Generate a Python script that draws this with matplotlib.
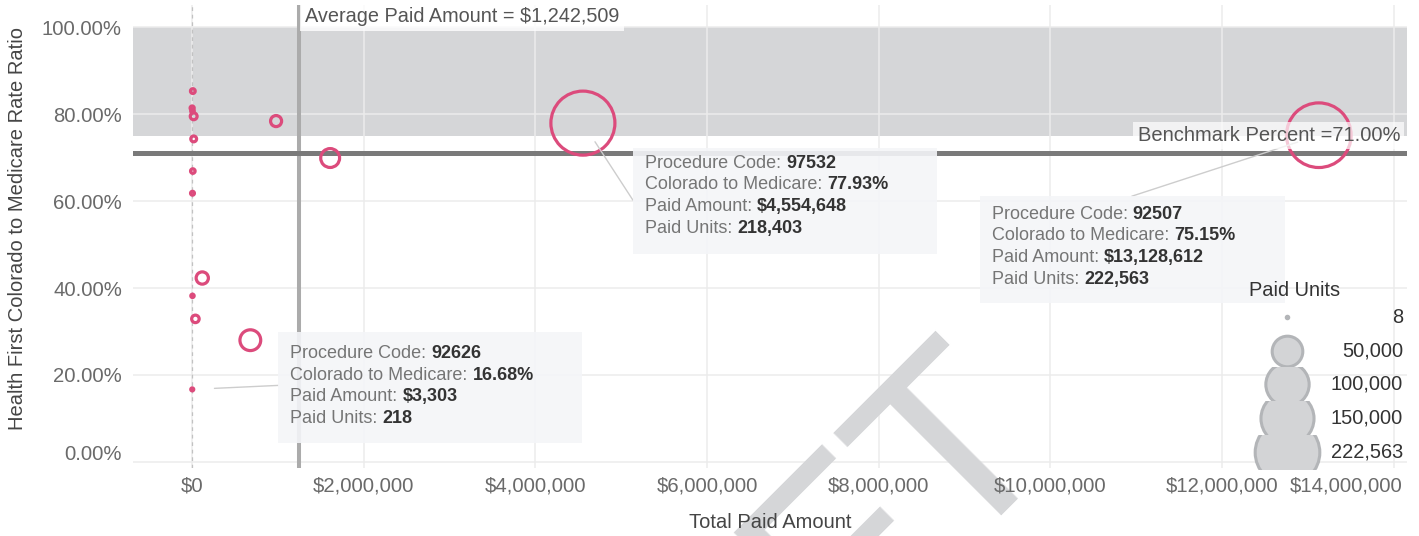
import numpy as np
import matplotlib
matplotlib.use('Agg')
import matplotlib.pyplot as plt
import matplotlib.transforms as mtransforms
from matplotlib.patches import Rectangle

plt.rcParams['font.family'] = ['Liberation Sans', 'DejaVu Sans']

# ---------------- data ----------------
paid_amount = [10000, 2000, 6000, 20000, 20000, 10000, 6000, 6000, 40000, 3303,
               980000, 1610000, 120000, 680000, 4554648, 13128612]
ratio_pct = [85.3, 81.4, 80.7, 79.5, 74.3, 66.9, 61.8, 38.2, 32.9, 16.68,
             78.4, 69.9, 42.3, 28.0, 77.93, 75.15]
paid_units = [1200, 900, 700, 2500, 1800, 1100, 800, 600, 3000, 218,
              6500, 19000, 8000, 23000, 218403, 222563]

ann_index = [9, 14, 15]
ann_code = ['92626', '97532', '92507']

average_paid = 1242509
benchmark_pct = 71.0
band_low, band_high = 75.0, 100.0

x_ticks = [0, 2000000, 4000000, 6000000, 8000000, 10000000, 12000000, 14000000]
y_ticks = [0, 20, 40, 60, 80, 100]
legend_units = [8, 50000, 100000, 150000, 222563]

# ---------------- style ----------------
PINK = '#dc4b7c'
TICK_C = '#6a6a6a'
TITLE_C = '#454545'
DPI = 100


def diam_px(u, min_d=3.0):
    return max(0.137 * np.sqrt(u), min_d)


def s_of(u, min_d=3.0):
    return (diam_px(u, min_d) * 72.0 / DPI) ** 2


fig = plt.figure(figsize=(14.19, 5.36), dpi=DPI)
W, H = 1419, 536
ax = fig.add_axes([133 / W, 1 - 468 / H, (1407 - 133) / W, (468 - 5) / H])
ax.set_xlim(-687000, 14156000)
ax.set_ylim(-1.4, 105.1)
ax.set_axisbelow(False)
for sp in ax.spines.values():
    sp.set_visible(False)

# band
ax.axhspan(band_low, band_high, color='#d5d6d8', zorder=1, lw=0)

# gridlines
for xt in x_ticks:
    ax.axvline(xt, color='#ececec', lw=1.1, zorder=1.2)
for yt in y_ticks:
    ax.axhline(yt, color='#ececec', lw=1.1, zorder=1.2)

# zero line
ax.axvline(0, color='#c2c2c2', lw=0.9, ls=(0, (3, 3)), zorder=1.3)
# average line
ax.axvline(average_paid, color='#ababab', lw=2.9, zorder=1.4)
# benchmark line
ax.axhline(benchmark_pct, color='#7a7a7a', lw=3.6, zorder=1.5)

# ticks
ax.set_xticks(x_ticks)
ax.set_xticklabels(['${:,.0f}'.format(v) for v in x_ticks])
ax.set_yticks(y_ticks)
ax.set_yticklabels(['{:.2f}%'.format(v) for v in y_ticks])
ax.tick_params(axis='both', length=0, labelsize=14.6, labelcolor=TICK_C)
ax.tick_params(axis='x', pad=6.2)
ax.tick_params(axis='y', pad=8)
xl = ax.get_xticklabels()
xl[-1].set_ha('right')
xl[-1].set_transform(xl[-1].get_transform() +
                     mtransforms.ScaledTranslation(9 / DPI, 0, fig.dpi_scale_trans))
yl = ax.get_yticklabels()
yl[0].set_transform(yl[0].get_transform() +
                    mtransforms.ScaledTranslation(0, 9 / DPI, fig.dpi_scale_trans))

ax.set_xlabel('Total Paid Amount', fontsize=14.5, color=TITLE_C)
ax.xaxis.label.set_va('center')
ax.xaxis.set_label_coords(0.5, -0.118)
ax.set_ylabel('Health First Colorado to Medicare Rate Ratio', fontsize=14.5, color=TITLE_C)
ax.yaxis.label.set_va('center')
ax.yaxis.set_label_coords(-0.0903, 0.518)

# watermark (behind tick labels)
ax.text(0.534, -0.377, 'DRAFT', transform=fig.transFigure, fontsize=184,
        rotation=45, rotation_mode='anchor', ha='center', va='baseline',
        color='#d5d6d8', clip_on=False, zorder=2)

# scatter
sizes = [s_of(u) for u in paid_units]
ax.scatter(paid_amount, ratio_pct, s=sizes, facecolors='none', edgecolors=PINK,
           linewidths=2.3, zorder=3)

# labels for lines
ax.annotate('Average Paid Amount = ${:,.0f}'.format(average_paid),
            xy=(average_paid, 1), xycoords=ax.get_xaxis_transform(),
            xytext=(6, -12), textcoords='offset pixels', ha='left', va='center',
            fontsize=14.3, color='#555555', zorder=5,
            bbox=dict(boxstyle='square,pad=0.25', fc='white', ec='none', alpha=0.8))
ax.annotate('Benchmark Percent ={:.2f}%'.format(benchmark_pct),
            xy=(1, benchmark_pct), xycoords=ax.get_yaxis_transform(),
            xytext=(-7, 18), textcoords='offset pixels', ha='right', va='center',
            fontsize=14.5, color='#555555', zorder=5,
            bbox=dict(boxstyle='square,pad=0.2', fc='white', ec='none', alpha=0.7))

# annotation boxes (offsets in pixels relative to the point, y up)
layouts = [
    dict(box=(86, 57, 304, 111), text=(98, 36), lead=(86, 4)),
    dict(box=(50, -25, 304, 106), text=(62, -40), lead=(50, -77)),
    dict(box=(-339, -61, 305, 107), text=(-327, -79), lead=(-187, -61)),
]
FS = 13.0
STEP = 21.7
for idx, code, lay in zip(ann_index, ann_code, layouts):
    xd, yd = paid_amount[idx], ratio_pct[idx]
    trans = mtransforms.IdentityTransform() + mtransforms.ScaledTranslation(xd, yd, ax.transData)
    bx, btop, bw, bh = lay['box']
    ax.add_patch(Rectangle((bx, btop - bh), bw, bh, transform=trans,
                           fc='#f4f5f8', ec='none', alpha=0.9, zorder=4, clip_on=False))
    ax.annotate('', xy=(xd, yd), xytext=lay['lead'], textcoords='offset pixels',
                arrowprops=dict(arrowstyle='-', color='#cdcdcd', lw=1,
                                shrinkA=0, shrinkB=16), zorder=3.5)
    lines = [('Procedure Code:', code),
             ('Colorado to Medicare:', '{:.2f}%'.format(ratio_pct[idx])),
             ('Paid Amount:', '${:,.0f}'.format(paid_amount[idx])),
             ('Paid Units:', '{:,.0f}'.format(paid_units[idx]))]
    tx, ty = lay['text']
    for k, (lab, val) in enumerate(lines):
        a = ax.annotate(lab, xy=(xd, yd), xytext=(tx, ty - k * STEP),
                        textcoords='offset pixels', ha='left', va='center',
                        fontsize=FS, color='#757575', zorder=5, annotation_clip=False)
        ax.annotate(val, xy=(1, 0.5), xycoords=a, xytext=(5, 0),
                    textcoords='offset pixels', ha='left', va='center',
                    fontsize=FS, color='#333333', fontweight='bold', zorder=5,
                    annotation_clip=False)

# size legend
ax.text(0.912, 0.3844, 'Paid Units', transform=ax.transAxes, ha='center', va='center',
        fontsize=14.4, color='#333333', zorder=5)
row_y = [0.326, 0.2527, 0.1814, 0.108, 0.0346]
row_h = 34 / 463
for u, yy in zip(legend_units, row_y):
    coll = ax.scatter([0.9058], [yy], s=s_of(u, 2.5), transform=ax.transAxes,
                      facecolors='#d3d4d6', edgecolors='#b3b5b8', linewidths=2.2,
                      zorder=5, clip_on=True)
    clip = Rectangle((0.85, yy - row_h / 2), 0.1, row_h, transform=ax.transAxes)
    coll.set_clip_path(clip)
    ax.text(0.9969, yy, '{:,.0f}'.format(u), transform=ax.transAxes, ha='right',
            va='center', fontsize=14.4, color='#333333', zorder=5)

fig.savefig('out.png', dpi=DPI)
